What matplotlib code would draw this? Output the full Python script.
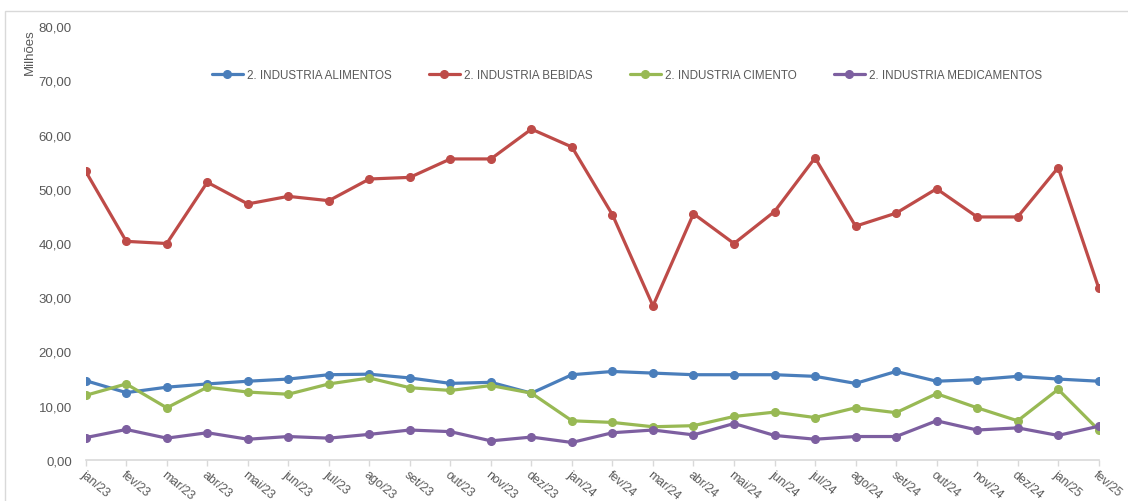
import matplotlib
matplotlib.use("Agg")
import matplotlib.pyplot as plt
from matplotlib.patches import Rectangle
from matplotlib.ticker import FuncFormatter, MultipleLocator

plt.rcParams["font.family"] = ["Liberation Sans", "DejaVu Sans"]

months = [
    "jan/23", "fev/23", "mar/23", "abr/23", "mai/23", "jun/23", "jul/23", "ago/23",
    "set/23", "out/23", "nov/23", "dez/23", "jan/24", "fev/24", "mar/24", "abr/24",
    "mai/24", "jun/24", "jul/24", "ago/24", "set/24", "out/24", "nov/24", "dez/24",
    "jan/25", "fev/25",
]
alimentos = [14.6, 12.4, 13.4, 14.0, 14.5, 14.9, 15.7, 15.8, 15.1, 14.1, 14.3, 12.3, 15.7,
             16.3, 16.0, 15.7, 15.7, 15.7, 15.4, 14.1, 16.3, 14.5, 14.8, 15.4, 14.9, 14.5]
bebidas = [53.2, 40.3, 39.9, 51.2, 47.2, 48.6, 47.8, 51.8, 52.1, 55.5, 55.5, 61.0, 57.7,
           45.2, 28.4, 45.4, 39.9, 45.8, 55.7, 43.1, 45.5, 50.0, 44.8, 44.8, 53.9, 31.7]
cimento = [11.9, 14.0, 9.6, 13.4, 12.5, 12.1, 14.0, 15.1, 13.3, 12.8, 13.7, 12.3, 7.2,
           6.9, 6.1, 6.3, 8.0, 8.8, 7.8, 9.6, 8.7, 12.2, 9.6, 7.2, 13.0, 5.5]
medicamentos = [4.1, 5.6, 4.0, 5.0, 3.8, 4.3, 4.0, 4.7, 5.5, 5.2, 3.5, 4.2, 3.2,
                5.0, 5.5, 4.6, 6.7, 4.5, 3.8, 4.3, 4.3, 7.2, 5.5, 5.9, 4.5, 6.2]

series = [
    ("2. INDUSTRIA ALIMENTOS", alimentos, "#4A7EBB"),
    ("2. INDUSTRIA BEBIDAS", bebidas, "#BE4B48"),
    ("2. INDUSTRIA CIMENTO", cimento, "#98B954"),
    ("2. INDUSTRIA MEDICAMENTOS", medicamentos, "#7D5FA0"),
]

fig = plt.figure(figsize=(11.28, 5.02), dpi=100)
ax = fig.add_axes([0.076, 0.082, 0.898, 0.864])

x = list(range(len(months)))
for label, values, color in series:
    ax.plot(x, values, color=color, linewidth=2.3, marker="o", markersize=5.5,
            label=label, solid_capstyle="round")

ax.set_xlim(0, len(months) - 1)
ax.set_ylim(0, 80)
ax.yaxis.set_major_locator(MultipleLocator(10))
ax.yaxis.set_major_formatter(FuncFormatter(lambda v, _: f"{v:.2f}".replace(".", ",")))
ax.tick_params(axis="y", length=0, pad=10, labelsize=9.5, labelcolor="#595959")
ax.tick_params(axis="x", length=4, color="#D9D9D9", width=1, direction="out",
               labelsize=8.8, labelcolor="#595959", pad=2)
ax.set_xticks(x)
ax.set_xticklabels(months, rotation=-40, ha="left", va="top", rotation_mode="anchor")

for side in ["top", "right", "left"]:
    ax.spines[side].set_visible(False)
ax.spines["bottom"].set_color("#D9D9D9")
ax.spines["bottom"].set_linewidth(1.2)

leg = ax.legend(loc="center", bbox_to_anchor=(0.534, 0.888), ncol=4, frameon=False,
                fontsize=8.4, handlelength=2.7, columnspacing=3.2, handletextpad=0.3)
for t in leg.get_texts():
    t.set_color("#595959")

fig.text(30 / 1128, 1 - 52 / 502, "Milhões", rotation=90, ha="center", va="center",
         fontsize=9.5, color="#595959")

fig.patches.append(Rectangle((5 / 1128, -0.05), 1.1, 1 - 12 / 502 + 0.05,
                             transform=fig.transFigure, fill=False,
                             edgecolor="#D9D9D9", linewidth=1))

fig.savefig("out.png", dpi=100)
